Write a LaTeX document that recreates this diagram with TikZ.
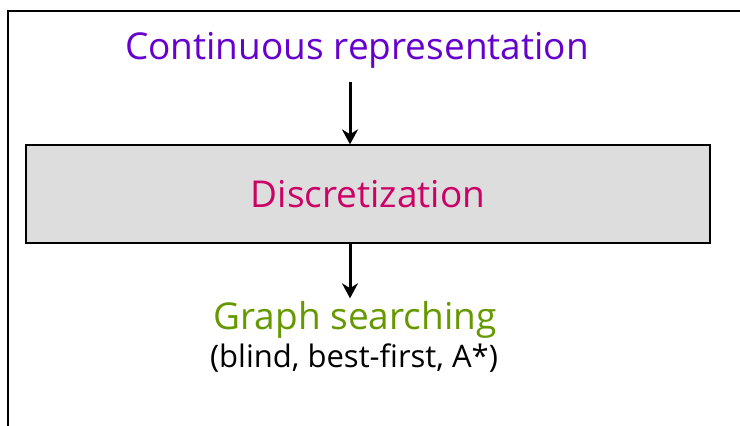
\documentclass[tikz,border=0pt]{standalone}
\usepackage{fontspec}
\setmainfont{Open Sans}
\usepackage{xcolor}
\usetikzlibrary{arrows.meta}

\definecolor{contpurple}{HTML}{6600CC}
\definecolor{discred}{HTML}{CC0066}
\definecolor{graphgreen}{HTML}{669900}
\definecolor{boxgray}{HTML}{DDDDDD}

\begin{document}
\begin{tikzpicture}[x=1pt,y=-1pt,
    title/.style={font=\fontsize{37}{44}\selectfont, inner sep=0pt},
    flow/.style={-{Stealth[length=15pt,width=16pt]}, line width=3pt}]
    \useasboundingbox (0,0) rectangle (740,426);
    % Frame (cut at right and bottom)
    \draw[line width=2.8pt] (8,426) -- (8,11) -- (740,11);

    % Stages
    \node[title, text=contpurple] (cont) at (357,50) {Continuous representation};
    \node[draw, line width=1.2pt, fill=boxgray, minimum width=684pt, minimum height=98pt,
          title, text=discred] (disc) at (368,194) {Discretization};
    \node[title, text=graphgreen] (graph) at (355,320) {Graph searching};
    \node[font=\fontsize{31}{36}\selectfont, inner sep=0pt] (algo) at (354,358) {(blind, best-first, A*)};

    % Arrows
    \draw[flow] ([xshift=-7pt,yshift=-14pt]cont.south) -- ([xshift=-7pt]cont.south |- disc.north);
    \draw[flow] ([xshift=-18pt]disc.south) -- ([xshift=-18pt,yshift=3pt]disc.south |- graph.north);
\end{tikzpicture}
\end{document}
